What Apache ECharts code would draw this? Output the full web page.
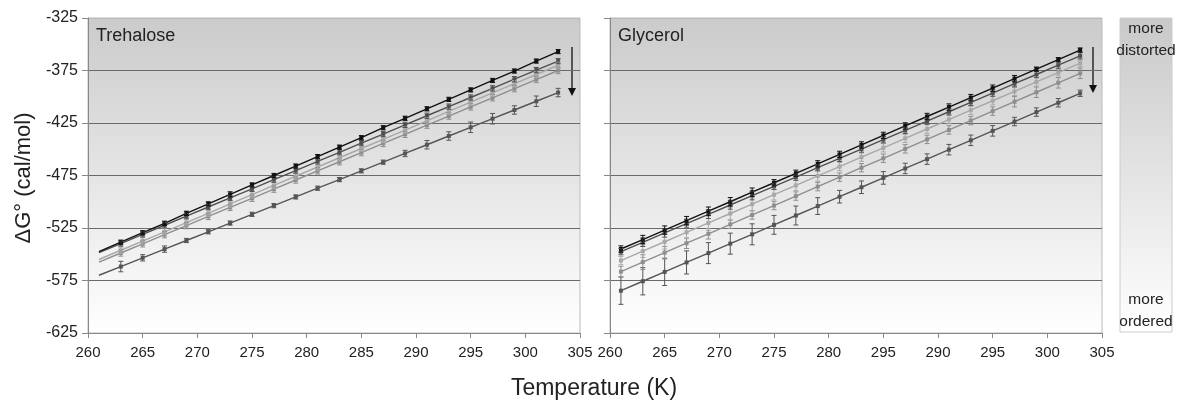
<!DOCTYPE html>
<html>
<head>
<meta charset="utf-8">
<script src="https://cdn.jsdelivr.net/npm/echarts@6/dist/echarts.min.js"></script>
<style>
  html,body{margin:0;padding:0;background:#fff;}
  #chart{width:1181px;height:405px;}
</style>
</head>
<body>
<div id="chart"></div>
<script>
// temperatures (K)
const temps = [261,263,265,267,269,271,273,275,277,279,281,283,285,287,289,291,293,295,297,299,301,303];
const xTicksLeft = ['260','265','270','275','280','285','290','295','300','305'];
const xTicksRight = ['260','265','270','275','280','295','290','295','300','305'];

// Trehalose panel, top (more distorted) to bottom (more ordered)
const treS1 = [-547.5,-538.5,-529.5,-520.5,-511,-502,-493,-484,-475,-466,-457,-448,-439,-429.5,-420.5,-411.5,-402.5,-393.5,-384.5,-375.5,-366,-357];
const treS2 = [-548.5,-539.8,-531.1,-522.4,-513.7,-505,-496.4,-487.7,-479,-470.3,-461.6,-452.9,-444.2,-435.5,-426.8,-418.1,-409.4,-400.7,-392,-383.3,-374.6,-366];
const treS3 = [-555,-546.2,-537.4,-528.6,-519.8,-511,-502.1,-493.3,-484.5,-475.7,-466.9,-458.1,-449.3,-440.5,-431.7,-422.9,-414,-405.2,-396.4,-387.6,-378.8,-370];
const treS4 = [-557.5,-548.8,-540.1,-531.4,-522.7,-514,-505.4,-496.7,-488,-479.3,-470.6,-461.9,-453.2,-444.5,-435.8,-427.1,-418.4,-409.7,-401,-392.3,-383.6,-375];
const treS5 = [-570,-561.7,-553.4,-545.1,-536.9,-528.6,-520.3,-512,-503.7,-495.4,-487.1,-478.9,-470.6,-462.3,-454,-445.7,-437.4,-429.1,-420.9,-412.6,-404.3,-396];
const treE1 = [0,2,2,2,2,2,2.5,2,2,2,2,2,2,2,2,2,2,2,2,2,2,2];
const treE2 = [0,2.5,2.5,2.5,2.5,2.5,2.5,2.5,2.5,2.5,2.5,2.5,2.5,2.5,2.5,2.5,2.5,2.5,2.5,2.5,2.5,2.5];
const treE3 = [0,3,3,3,3,3,3,3,3,3,3,3,3,3,3,3,3,3,3,3,3,3];
const treE4 = [0,3,3,3,3,3,3,3,3,3,3,3,3,3,3,3,3,3,3,3,3,3];
const treE5 = [0,5,3,3,2,2,2,2,2,2,2,2,2,2,3,4,4,5,5,4,5,4];

// Glycerol panel
const glyS1 = [-545,-536,-527,-518,-509,-500,-490.9,-481.9,-472.9,-463.9,-454.9,-445.9,-436.8,-427.8,-418.8,-409.8,-400.8,-391.8,-382.7,-373.7,-364.7,-355.5];
const glyS2 = [-547.5,-538.6,-529.7,-520.9,-512,-503.1,-494.2,-485.3,-476.5,-467.6,-458.7,-449.8,-440.9,-432.1,-423.2,-414.3,-405.4,-396.5,-387.6,-378.8,-369.9,-361];
const glyS3 = [-556,-547,-538.1,-529.1,-520.2,-511.2,-502.3,-493.3,-484.4,-475.4,-466.5,-457.5,-448.6,-439.6,-430.7,-421.7,-412.8,-403.8,-394.9,-385.9,-377,-368];
const glyS4 = [-566.5,-557.5,-548.5,-539.5,-530.5,-521.5,-512.6,-503.6,-494.6,-485.6,-476.6,-467.6,-458.6,-449.6,-440.6,-431.6,-422.7,-413.7,-404.7,-395.7,-386.7,-377.7];
const glyS5 = [-584.7,-575.7,-566.8,-557.8,-548.9,-539.9,-531,-522,-513.1,-504.1,-495.2,-486.2,-477.3,-468.3,-459.4,-450.4,-441.5,-432.5,-423.6,-414.6,-405.7,-396.7];
const glyE1 = [3,4,4,4,4,4,4,3,3,3,3,3,3,3,3,3,3,3,3,2,2,2];
const glyE2 = [3,4,4,4,4,4,4,3,3,3,3,3,3,3,3,3,3,3,3,3,3,3];
const glyE3 = [4,6,7,6,7,6,6,5,5,5,4,4,4,4,4,4,4,4,4,4,3,3];
const glyE4 = [5,7,6,5,5,4,4,4,4,4,4,4,4,4,4,4,4,4,5,5,5,5];
const glyE5 = [13,13,13,11,10,10,10,9,9,8,6,6,6,5,5,5,5,5,4,4,4,3];

const lineColors = ['#111111','#505050','#a8a8a8','#8e8e8e','#555555'];

const chart = echarts.init(document.getElementById('chart'));
const font = 'Liberation Sans, Arial, sans-serif';

const bgGrad = new echarts.graphic.LinearGradient(0,0,0,1,[
  {offset:0,color:'#cbcbcb'},{offset:1,color:'#ffffff'}
]);

function makeSeries(vals, errs, color, idx){
  const pts = temps.map((t,i)=>[t, vals[i]]);
  const errPts = temps.map((t,i)=>[t, vals[i], errs[i]]);
  return [
    {
      type:'line', xAxisIndex:idx, yAxisIndex:idx, data:pts,
      symbol:'rect', showSymbol:true,
      // trehalose fits start at 261 K without a measured point
      symbolSize:(v, p)=> (idx===0 && p.dataIndex===0) ? 0 : 4,
      lineStyle:{color:color,width:1.4}, itemStyle:{color:color},
      silent:true, z:3
    },
    {
      type:'custom', xAxisIndex:idx, yAxisIndex:idx, data:errPts, z:4, silent:true,
      renderItem:(params, api)=>{
        const e = api.value(2);
        if(!e) return null;
        const top = api.coord([api.value(0), api.value(1)+e]);
        const bot = api.coord([api.value(0), api.value(1)-e]);
        const st = {stroke:color, lineWidth:1};
        return {type:'group', children:[
          {type:'line', shape:{x1:top[0],y1:top[1],x2:bot[0],y2:bot[1]}, style:st},
          {type:'line', shape:{x1:top[0]-2.5,y1:top[1],x2:top[0]+2.5,y2:top[1]}, style:st},
          {type:'line', shape:{x1:bot[0]-2.5,y1:bot[1],x2:bot[0]+2.5,y2:bot[1]}, style:st}
        ]};
      }
    }
  ];
}

function xAxisFor(idx, labels){
  return {
    type:'value', gridIndex:idx, min:260, max:305, interval:5,
    axisLine:{show:true,lineStyle:{color:'#888',width:1}},
    axisTick:{show:true,length:5,lineStyle:{color:'#888'}},
    splitLine:{show:false},
    axisLabel:{color:'#222',fontSize:15,fontFamily:font,margin:12,
      formatter:(v)=>labels[Math.round((v-260)/5)]}
  };
}
function yAxisFor(idx, showLabels){
  return {
    type:'value', gridIndex:idx, min:-625, max:-325, interval:50,
    axisLine:{show:true,lineStyle:{color:'#888',width:1}},
    axisTick:{show:true,length:6,lineStyle:{color:'#888'}},
    splitLine:{show:true,lineStyle:{width:1,color:['#888','#6a6a6a','#6a6a6a','#6a6a6a','#6a6a6a','#6a6a6a','#bbbbbb']}},
    axisLabel:{show:showLabels,color:'#222',fontSize:16,fontFamily:font,margin:10}
  };
}

const series = [];
[[treS5,treE5,4],[treS4,treE4,3],[treS3,treE3,2],[treS2,treE2,1],[treS1,treE1,0]].forEach(s=>{
  series.push(...makeSeries(s[0], s[1], lineColors[s[2]], 0));
});
[[glyS5,glyE5,4],[glyS4,glyE4,3],[glyS3,glyE3,2],[glyS2,glyE2,1],[glyS1,glyE1,0]].forEach(s=>{
  series.push(...makeSeries(s[0], s[1], lineColors[s[2]], 1));
});

const arrow = (x, y1, y2)=>({
  type:'group', children:[
    {type:'line', shape:{x1:x,y1:y1,x2:x,y2:y2-6}, style:{stroke:'#111',lineWidth:1.3}},
    {type:'polygon', shape:{points:[[x-4,y2-8],[x+4,y2-8],[x,y2]]}, style:{fill:'#111'}}
  ]
});

chart.setOption({
  animation:false,
  backgroundColor:'#fff',
  grid:[
    {left:88, right:601, top:18, bottom:72, show:true, backgroundColor:bgGrad, borderColor:'#bbb', borderWidth:1},
    {left:610, right:79, top:18, bottom:72, show:true, backgroundColor:bgGrad, borderColor:'#bbb', borderWidth:1}
  ],
  xAxis:[xAxisFor(0, xTicksLeft), xAxisFor(1, xTicksRight)],
  yAxis:[yAxisFor(0,true), yAxisFor(1,false)],
  series:series,
  graphic:[
    {type:'text', left:96, top:27, style:{text:'Trehalose', fontSize:18, fontFamily:font, fill:'#222'}},
    {type:'text', left:618, top:27, style:{text:'Glycerol', fontSize:18, fontFamily:font, fill:'#222'}},
    arrow(572, 47, 96),
    arrow(1093, 47, 93),
    {type:'rect', shape:{x:1120, y:18, width:52, height:314},
      style:{fill:new echarts.graphic.LinearGradient(0,0,0,1,[{offset:0,color:'#c9c9c9'},{offset:1,color:'#ffffff'}]), stroke:'#ccc', lineWidth:1}},
    {type:'text', x:1146, y:18, style:{text:'more\ndistorted', fontSize:15.5, lineHeight:22, fontFamily:font, fill:'#222', align:'center'}},
    {type:'text', x:1146, y:289, style:{text:'more\nordered', fontSize:15.5, lineHeight:22, fontFamily:font, fill:'#222', align:'center'}},
    {type:'text', x:24, y:178, rotation:Math.PI/2, style:{text:'ΔG° (cal/mol)', fontSize:22, fontFamily:font, fill:'#222', align:'center', verticalAlign:'middle'}},
    {type:'text', x:594, y:389, style:{text:'Temperature (K)', fontSize:23, fontFamily:font, fill:'#222', align:'center', verticalAlign:'middle'}}
  ]
});
</script>
</body>
</html>
